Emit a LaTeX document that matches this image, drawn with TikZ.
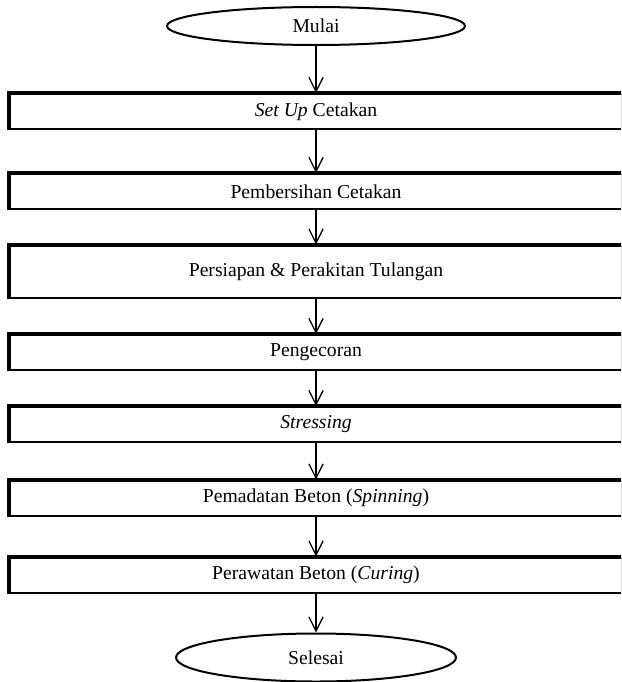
\documentclass[tikz,border=0pt]{standalone}
\usepackage{fontspec}
\setmainfont{Liberation Serif}
\usetikzlibrary{shapes.geometric, arrows.meta, positioning}
\tikzset{
	terminal/.style={draw, ellipse, line width=1.2pt, inner sep=0pt},
	stepbox/.style={draw, rectangle, line width=1.2pt, inner sep=2pt, minimum width=367.2pt, minimum height=21pt},
}

\begin{document}
\begin{tikzpicture}[font=\fontsize{11.8pt}{14pt}\selectfont, node distance=48pt]
	\useasboundingbox (0,0) rectangle (372.6pt,-409.2pt);
	\clip (0,0) rectangle (372.6pt,-409.2pt);
	
	\node (mulai) [terminal, minimum width=178.8pt, minimum height=22.8pt] at (189.6pt,-15.6pt) {Mulai};
	\node (setup) [stepbox, below of=mulai, yshift=-3.3pt] {\textit{Set Up} Cetakan};
	\node (bersih) [stepbox, below of=setup] {Pembersihan Cetakan};
	\node (tulangan) [stepbox, below of=bersih, minimum height=31.2pt] {Persiapan \& Perakitan Tulangan};
	\node (cor) [stepbox, below of=tulangan, yshift=-0.6pt] {Pengecoran};
	\node (stressing) [stepbox, below of=cor, yshift=4.8pt] {\textit{Stressing}};
	\node (spinning) [stepbox, below of=stressing, yshift=3.9pt] {Pemadatan Beton (\textit{Spinning})};
	\node (curing) [stepbox, below of=spinning, yshift=1.8pt] {Perawatan Beton (\textit{Curing})};
	\node (selesai) [terminal, below of=curing, yshift=-1.5pt, minimum width=168pt, minimum height=28.8pt] {Selesai};
	
	% thick top and left edges
	\foreach \n in {setup, bersih, tulangan, cor, stressing, spinning, curing}
		\draw [line width=2.4pt] (\n.south west) |- (\n.north east);
	
	\begin{scope}[line width=0.8pt, ->, >={Straight Barb[length=8.5pt, width=8.5pt]}]
		\draw (mulai) -- (setup);
		\draw (setup) -- (bersih);
		\draw (bersih) -- (tulangan);
		\draw (tulangan) -- (cor);
		\draw (cor) -- (stressing);
		\draw (stressing) -- (spinning);
		\draw (spinning) -- (curing);
		\draw (curing) -- (selesai);
	\end{scope}
\end{tikzpicture}
\end{document}
